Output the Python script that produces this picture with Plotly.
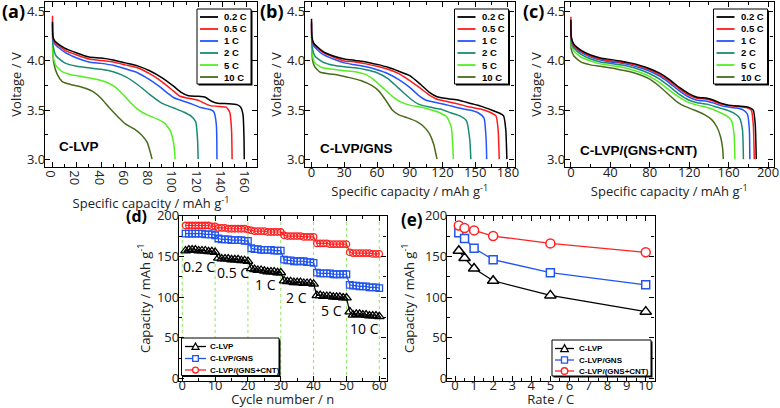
import plotly.graph_objects as go

# ---------------- DATA ----------------
RATES = ['0.2 C', '0.5 C', '1 C', '2 C', '5 C', '10 C']

# Panel (a) C-LVP discharge curves (capacity mAh/g, voltage V)
A_02_CAP = [0, 0.3, 2, 10, 20, 30, 40, 50, 60, 70, 80, 90, 100, 106, 112, 120, 126, 131, 136, 145, 152, 155, 157, 157.8, 158]
A_02_V = [4.40, 4.25, 4.20, 4.13, 4.08, 4.04, 4.03, 4.01, 3.98, 3.95, 3.90, 3.83, 3.74, 3.68, 3.645, 3.64, 3.63, 3.59, 3.57, 3.565, 3.555, 3.53, 3.45, 3.2, 3.0]
A_05_CAP = [0, 0.3, 2, 10, 20, 30, 40, 50, 60, 70, 80, 90, 100, 105, 112, 120, 125, 130, 138, 143, 146, 147.5, 148]
A_05_V = [4.46, 4.24, 4.19, 4.11, 4.06, 4.02, 4.005, 3.99, 3.96, 3.93, 3.87, 3.79, 3.69, 3.64, 3.62, 3.60, 3.57, 3.545, 3.535, 3.53, 3.48, 3.3, 3.0]
A_1_CAP = [0, 0.5, 2, 10, 20, 30, 40, 50, 60, 70, 80, 88, 95, 100, 108, 115, 122, 130, 133, 135, 135.5]
A_1_V = [4.38, 4.22, 4.17, 4.09, 4.03, 3.99, 3.975, 3.955, 3.92, 3.88, 3.81, 3.74, 3.67, 3.625, 3.59, 3.56, 3.525, 3.505, 3.48, 3.35, 3.0]
A_2_CAP = [0, 0.5, 3, 10, 20, 30, 40, 50, 60, 70, 80, 90, 100, 108, 114, 118, 119.5, 120]
A_2_V = [4.28, 4.15, 4.05, 3.98, 3.945, 3.93, 3.915, 3.89, 3.84, 3.76, 3.66, 3.57, 3.52, 3.48, 3.44, 3.38, 3.2, 3.0]
A_5_CAP = [0, 0.5, 3, 8, 15, 25, 35, 45, 52, 58, 64, 70, 78, 86, 92, 97, 100, 101]
A_5_V = [4.25, 4.05, 3.95, 3.89, 3.86, 3.84, 3.815, 3.78, 3.73, 3.66, 3.58, 3.51, 3.45, 3.41, 3.37, 3.29, 3.15, 3.0]
A_10_CAP = [0, 1, 4, 8, 15, 25, 33, 40, 47, 54, 60, 67, 73, 78, 81, 82]
A_10_V = [4.12, 3.98, 3.86, 3.79, 3.76, 3.73, 3.69, 3.62, 3.52, 3.43, 3.36, 3.31, 3.25, 3.17, 3.05, 3.0]

# Panel (b) C-LVP/GNS
B_02_CAP = [0, 0.3, 2, 10, 20, 30, 40, 50, 60, 70, 80, 90, 100, 108, 115, 125, 135, 145, 155, 165, 172, 176, 178, 179]
B_02_V = [4.43, 4.25, 4.18, 4.10, 4.05, 4.02, 4.005, 3.99, 3.965, 3.935, 3.895, 3.85, 3.76, 3.68, 3.635, 3.615, 3.60, 3.57, 3.54, 3.50, 3.47, 3.44, 3.3, 3.0]
B_05_CAP = [0, 0.3, 2, 10, 20, 30, 40, 50, 60, 70, 80, 90, 100, 107, 115, 125, 135, 145, 155, 163, 169, 171, 172]
B_05_V = [4.40, 4.22, 4.17, 4.09, 4.04, 4.00, 3.99, 3.97, 3.945, 3.915, 3.87, 3.80, 3.72, 3.66, 3.61, 3.585, 3.56, 3.53, 3.51, 3.48, 3.44, 3.3, 3.0]
B_1_CAP = [0, 0.5, 2, 10, 20, 30, 40, 50, 60, 70, 80, 90, 98, 105, 115, 125, 135, 145, 153, 158, 160, 160.5]
B_1_V = [4.38, 4.20, 4.15, 4.07, 4.02, 3.98, 3.96, 3.94, 3.91, 3.87, 3.81, 3.73, 3.65, 3.60, 3.575, 3.55, 3.52, 3.50, 3.47, 3.42, 3.2, 3.0]
B_2_CAP = [0, 0.5, 3, 10, 20, 30, 40, 50, 60, 70, 80, 90, 98, 108, 118, 128, 136, 142, 145, 146]
B_2_V = [4.30, 4.15, 4.05, 3.99, 3.955, 3.94, 3.93, 3.91, 3.88, 3.82, 3.72, 3.62, 3.56, 3.53, 3.51, 3.47, 3.44, 3.39, 3.2, 3.0]
B_5_CAP = [0, 0.5, 3, 10, 20, 30, 40, 50, 58, 66, 74, 82, 90, 100, 110, 118, 124, 128, 130]
B_5_V = [4.25, 4.08, 3.98, 3.93, 3.915, 3.90, 3.89, 3.86, 3.80, 3.72, 3.64, 3.58, 3.55, 3.53, 3.50, 3.47, 3.43, 3.33, 3.0]
B_10_CAP = [0, 1, 3, 8, 15, 25, 35, 45, 55, 62, 68, 74, 80, 88, 96, 102, 108, 112, 114, 115]
B_10_V = [4.15, 4.00, 3.94, 3.885, 3.87, 3.855, 3.83, 3.80, 3.75, 3.69, 3.60, 3.50, 3.45, 3.42, 3.385, 3.34, 3.26, 3.15, 3.05, 3.0]

# Panel (c) C-LVP/(GNS+CNT)
C_02_CAP = [0, 0.3, 3, 10, 20, 30, 40, 50, 60, 70, 80, 90, 100, 110, 120, 128, 138, 145, 152, 160, 170, 180, 185, 187, 188]
C_02_V = [4.42, 4.25, 4.17, 4.11, 4.06, 4.03, 4.015, 4.00, 3.98, 3.955, 3.92, 3.875, 3.81, 3.73, 3.665, 3.63, 3.62, 3.60, 3.57, 3.55, 3.54, 3.53, 3.50, 3.35, 3.0]
C_05_CAP = [0, 0.3, 3, 10, 20, 30, 40, 50, 60, 70, 80, 90, 100, 110, 120, 128, 138, 145, 152, 160, 170, 178, 183, 185, 186]
C_05_V = [4.45, 4.23, 4.16, 4.10, 4.05, 4.02, 4.00, 3.99, 3.97, 3.945, 3.91, 3.86, 3.795, 3.715, 3.65, 3.62, 3.61, 3.59, 3.56, 3.545, 3.535, 3.525, 3.50, 3.35, 3.0]
C_1_CAP = [0, 0.3, 3, 10, 20, 30, 40, 50, 60, 70, 80, 90, 100, 110, 120, 128, 138, 145, 152, 160, 168, 175, 179, 181, 181.5]
C_1_V = [4.40, 4.22, 4.15, 4.09, 4.04, 4.01, 3.99, 3.98, 3.96, 3.93, 3.895, 3.845, 3.775, 3.695, 3.63, 3.60, 3.59, 3.57, 3.545, 3.53, 3.52, 3.50, 3.46, 3.3, 3.0]
C_2_CAP = [0, 0.3, 3, 10, 20, 30, 40, 50, 60, 70, 80, 90, 100, 110, 120, 128, 138, 148, 158, 165, 171, 174, 175]
C_2_V = [4.33, 4.20, 4.13, 4.07, 4.02, 3.99, 3.975, 3.96, 3.94, 3.91, 3.87, 3.815, 3.74, 3.66, 3.60, 3.575, 3.56, 3.53, 3.50, 3.47, 3.42, 3.3, 3.0]
C_5_CAP = [0, 0.3, 3, 10, 20, 30, 40, 50, 60, 70, 80, 90, 100, 110, 120, 130, 140, 150, 158, 163, 165.5, 166.3]
C_5_V = [4.30, 4.17, 4.10, 4.04, 4.00, 3.97, 3.955, 3.94, 3.915, 3.885, 3.84, 3.78, 3.70, 3.63, 3.575, 3.545, 3.52, 3.48, 3.44, 3.39, 3.25, 3.0]
C_10_CAP = [0, 0.3, 3, 10, 20, 30, 40, 50, 60, 70, 80, 90, 100, 108, 115, 125, 135, 143, 148, 152, 154, 154.6]
C_10_V = [4.28, 4.12, 4.05, 3.99, 3.96, 3.945, 3.93, 3.91, 3.89, 3.86, 3.815, 3.74, 3.65, 3.58, 3.54, 3.50, 3.455, 3.40, 3.33, 3.22, 3.10, 3.0]

# Panel (d) cycling at different rates
CYCLES = list(range(1, 61))
D_LVP = [157, 158, 158, 158, 157, 157, 157, 156, 156, 155,
         148, 147, 147, 147, 146, 146, 146, 145, 145, 144,
         135, 134, 133, 133, 132, 131, 131, 131, 130, 130,
         120, 119, 119, 118, 118, 118, 117, 117, 117, 116,
         102, 102, 101, 101, 101, 100, 100, 100, 99, 99,
         82, 78, 79, 79, 78, 78, 77, 77, 77, 76]
D_GNS = [178, 178, 178, 178, 178, 178, 177, 177, 177, 176,
         172, 171, 171, 171, 170, 170, 170, 170, 169, 169,
         160, 159, 159, 158, 158, 158, 158, 157, 157, 157,
         146, 145, 145, 144, 144, 144, 144, 143, 143, 142,
         130, 129, 129, 129, 129, 128, 128, 128, 128, 128,
         115, 114, 114, 113, 113, 113, 112, 112, 112, 111]
D_CNT = [188, 188, 188, 188, 188, 188, 188, 188, 187, 187,
         185, 185, 185, 184, 184, 184, 184, 184, 184, 183,
         182, 181, 181, 181, 181, 180, 180, 180, 180, 180,
         176, 175, 175, 175, 175, 175, 174, 174, 174, 174,
         166, 166, 166, 166, 165, 165, 165, 165, 165, 165,
         155, 154, 154, 154, 154, 154, 154, 153, 153, 153]
D_RATE_X = [5.1, 15.4, 25.3, 34.8, 45.3, 55.5]
D_RATE_Y = [137, 130, 116, 100, 83, 61]
D_DIVIDERS = [0, 10, 20, 30, 40, 50, 60]

# Panel (e) capacity vs rate
E_RATE = [0.2, 0.5, 1, 2, 5, 10]
E_LVP = [157, 148, 135, 120, 102, 82]
E_GNS = [179, 172, 160, 146, 130, 115]
E_CNT = [188, 185, 182, 175, 166, 155]

SERIES_NAMES = ['C-LVP', 'C-LVP/GNS', 'C-LVP/(GNS+CNT)']

# ---------------- STYLE ----------------
W, H = 780, 408
FONT = 'Open Sans'
RATE_COLORS = ['#000000', '#ff1a1a', '#2255ff', '#1b8a72', '#55ee22', '#4a6b1b']
SER_COLORS = ['#000000', '#2255ee', '#ff2222']
SER_OPEN = ['triangle-up-open', 'square-open', 'circle-open']
SER_FILLED = ['triangle-up', 'square', 'circle']


def px(x):
    return x / W


def py(y):
    return 1 - y / H


fig = go.Figure()

top_sets = [
    ('x', 'y', [(A_02_CAP, A_02_V), (A_05_CAP, A_05_V), (A_1_CAP, A_1_V), (A_2_CAP, A_2_V), (A_5_CAP, A_5_V), (A_10_CAP, A_10_V)]),
    ('x2', 'y2', [(B_02_CAP, B_02_V), (B_05_CAP, B_05_V), (B_1_CAP, B_1_V), (B_2_CAP, B_2_V), (B_5_CAP, B_5_V), (B_10_CAP, B_10_V)]),
    ('x3', 'y3', [(C_02_CAP, C_02_V), (C_05_CAP, C_05_V), (C_1_CAP, C_1_V), (C_2_CAP, C_2_V), (C_5_CAP, C_5_V), (C_10_CAP, C_10_V)]),
]
for xa, ya, curves in top_sets:
    for i in reversed(range(len(curves))):
        cx, cy = curves[i]
        fig.add_trace(go.Scatter(x=cx, y=cy, mode='lines', name=RATES[i], showlegend=False,
                                 line=dict(color=RATE_COLORS[i], width=1.5, shape='spline', smoothing=0.5),
                                 xaxis=xa, yaxis=ya, hoverinfo='skip'))

d_series = [D_LVP, D_GNS, D_CNT]
d_sizes = [8.5, 6.5, 6.5]
for i, ser in enumerate(d_series):
    fig.add_trace(go.Scatter(x=CYCLES, y=ser, mode='lines+markers', name=SERIES_NAMES[i], showlegend=False,
                             line=dict(color=SER_COLORS[i], width=1.2),
                             marker=dict(symbol=SER_OPEN[i], size=d_sizes[i], color=SER_COLORS[i],
                                         line=dict(width=1.3)),
                             xaxis='x4', yaxis='y4'))

e_series = [E_LVP, E_GNS, E_CNT]
e_sizes = [10, 8, 9]
for i, ser in enumerate(e_series):
    fig.add_trace(go.Scatter(x=E_RATE, y=ser, mode='lines+markers', name=SERIES_NAMES[i], showlegend=False,
                             line=dict(color=SER_COLORS[i], width=1.3),
                             marker=dict(symbol=SER_FILLED[i], size=e_sizes[i], color='white',
                                         line=dict(width=1.5, color=SER_COLORS[i])),
                             xaxis='x5', yaxis='y5'))


def axis(domain_px, rng, dtick, minor, anchor, title, standoff, vertical=False, fmt=None, lab_off=None):
    if vertical:
        dom = [py(domain_px[1]), py(domain_px[0])]
    else:
        dom = [px(domain_px[0]), px(domain_px[1])]
    if lab_off is None:
        lab_off = -4 if vertical else -7
    d = dict(domain=dom, range=rng, anchor=anchor, automargin=False, showline=True, linecolor='black',
             linewidth=1.4, mirror='allticks', ticks='inside', ticklen=5, tickwidth=1.1, tickcolor='black',
             tick0=0, dtick=dtick, showgrid=False, zeroline=False,
             ticklabelstandoff=lab_off,
             minor=dict(ticks='inside', ticklen=3, tickwidth=1, tickcolor='black', dtick=minor, tick0=0),
             tickfont=dict(family=FONT, size=13, color='#222'),
             title=dict(text=title, font=dict(family=FONT, size=13, color='#222'), standoff=standoff))
    if fmt:
        d['tickformat'] = fmt
    return d


TOP_Y = (2, 167)
BOT_Y = (215.5, 381)
CAP_T = 'Specific capacity / mAh g<sup>-1</sup>'
VOLT_T = 'Voltage / V'
CAPY_T = 'Capacity / mAh g<sup>-1</sup>'

fig.update_layout(
    xaxis=axis((45, 257), [-6.2, 168.5], 20, 10, 'y', CAP_T, 0),
    yaxis=axis(TOP_Y, [2.92, 4.6], 0.5, 0.25, 'x', VOLT_T, 2, vertical=True, fmt='.1f'),
    xaxis2=axis((305, 514.5), [-6, 186], 30, 15, 'y2', CAP_T, 0),
    yaxis2=axis(TOP_Y, [2.92, 4.6], 0.5, 0.25, 'x2', VOLT_T, 2, vertical=True, fmt='.1f'),
    xaxis3=axis((565, 773.5), [-6, 205.5], 40, 20, 'y3', CAP_T, 0),
    yaxis3=axis(TOP_Y, [2.92, 4.6], 0.5, 0.25, 'x3', VOLT_T, 2, vertical=True, fmt='.1f'),
    xaxis4=axis((179, 386.5), [-1, 62.2], 10, 5, 'y4', 'Cycle number / n', 0, lab_off=-8),
    yaxis4=axis(BOT_Y, [-3.3, 200.3], 50, 25, 'x4', CAPY_T, 3, vertical=True),
    xaxis5=axis((447, 654.5), [-0.42, 10.46], 1, 0.5, 'y5', 'Rate / C', 0, lab_off=-8),
    yaxis5=axis(BOT_Y, [-3.3, 200.3], 50, 25, 'x5', CAPY_T, 7, vertical=True),
)

shapes = []
annotations = []

# green dividers in (d)
for xv in D_DIVIDERS:
    shapes.append(dict(type='line', xref='x4', yref='y4 domain', x0=xv, x1=xv, y0=0, y1=1,
                       line=dict(color='#8fe36a', width=1, dash='dot'), layer='below'))

# panel labels
for lab, xl, yc, fs in [('(a)', 0, 11, 18), ('(b)', 258, 11, 18), ('(c)', 521, 11, 18),
                        ('(d)', 124, 216, 16), ('(e)', 399, 219, 17)]:
    annotations.append(dict(text='<b>%s</b>' % lab, xref='paper', yref='paper', x=px(xl), y=py(yc),
                            xanchor='left', yanchor='middle', showarrow=False,
                            font=dict(family=FONT, size=fs, color='black')))

# sample names inside top panels
for name, xl, yc in [('C-LVP', 57, 146), ('C-LVP/GNS', 318, 148), ('C-LVP/(GNS+CNT)', 578, 150)]:
    annotations.append(dict(text='<b>%s</b>' % name, xref='paper', yref='paper', x=px(xl), y=py(yc),
                            xanchor='left', yanchor='middle', showarrow=False,
                            font=dict(family='Liberation Sans', size=13.5, color='black')))

# rate labels in (d)
for t, xv, yv in zip(RATES, D_RATE_X, D_RATE_Y):
    annotations.append(dict(text=t, xref='x4', yref='y4', x=xv, y=yv, showarrow=False,
                            font=dict(family=FONT, size=14, color='black')))


def legend_box(x0, x1, y0, y1):
    shapes.append(dict(type='rect', xref='paper', yref='paper', x0=px(x0 + 1.5), x1=px(x1 + 1.5),
                       y0=py(y1 + 1.5), y1=py(y0 + 1.5), fillcolor='black', line=dict(width=0)))
    shapes.append(dict(type='rect', xref='paper', yref='paper', x0=px(x0), x1=px(x1),
                       y0=py(y1), y1=py(y0), fillcolor='white', line=dict(color='black', width=1)))


# top legends
for fr in (257, 514.5, 773.5):
    bx0, bx1 = fr - 60, fr - 6
    legend_box(bx0, bx1, 9, 84)
    for i, lab in enumerate(RATES):
        yy = 17 + 12 * i
        shapes.append(dict(type='line', xref='paper', yref='paper', x0=px(bx0 + 3), x1=px(bx0 + 21),
                           y0=py(yy), y1=py(yy), line=dict(color=RATE_COLORS[i], width=1.8)))
        annotations.append(dict(text='<b>%s</b>' % lab, xref='paper', yref='paper', x=px(bx0 + 25), y=py(yy),
                                xanchor='left', yanchor='middle', showarrow=False,
                                font=dict(family='Liberation Sans', size=9.5, color='black')))


def marker_shape(kind, cx, cy, r, color):
    if kind == 0:
        path = 'M %f,%f L %f,%f L %f,%f Z' % (px(cx), py(cy - r), px(cx - r), py(cy + r * 0.8),
                                              px(cx + r), py(cy + r * 0.8))
        shapes.append(dict(type='path', xref='paper', yref='paper', path=path, fillcolor='white',
                           line=dict(color=color, width=1.3)))
    elif kind == 1:
        shapes.append(dict(type='rect', xref='paper', yref='paper', x0=px(cx - r * 0.8), x1=px(cx + r * 0.8),
                           y0=py(cy + r * 0.8), y1=py(cy - r * 0.8), fillcolor='white',
                           line=dict(color=color, width=1.3)))
    else:
        shapes.append(dict(type='circle', xref='paper', yref='paper', x0=px(cx - r * 0.85), x1=px(cx + r * 0.85),
                           y0=py(cy + r * 0.85), y1=py(cy - r * 0.85), fillcolor='white',
                           line=dict(color=color, width=1.3)))


def series_legend(bx0, bx1, by0, by1, rows, lx0, lx1, tx, r):
    legend_box(bx0, bx1, by0, by1)
    for i, name in enumerate(SERIES_NAMES):
        yy = rows[i]
        shapes.append(dict(type='line', xref='paper', yref='paper', x0=px(lx0), x1=px(lx1),
                           y0=py(yy), y1=py(yy), line=dict(color=SER_COLORS[i], width=1.3)))
        marker_shape(i, (lx0 + lx1) / 2, yy, r, SER_COLORS[i])
        annotations.append(dict(text='<b>%s</b>' % name, xref='paper', yref='paper', x=px(tx), y=py(yy),
                                xanchor='left', yanchor='middle', showarrow=False,
                                font=dict(family='Liberation Sans', size=8, color='black')))


series_legend(181.5, 279, 338, 375.5, [346.5, 358.5, 370], 185, 206, 208, 3.5)
series_legend(552, 651, 340, 376, [348.5, 360, 371], 555, 574, 577, 3.8)

fig.update_layout(shapes=shapes, annotations=annotations,
                  width=W, height=H, margin=dict(l=0, r=0, t=0, b=0, autoexpand=False),
                  paper_bgcolor='white', plot_bgcolor='white', showlegend=False,
                  font=dict(family=FONT, color='#222'))

# remove the browser's default 8px body margin so the 780x408 figure fills the window exactly
fig.write_html('out.html', config={'displayModeBar': False},
               post_script="document.body.style.margin='0';document.body.style.overflow='hidden';")
